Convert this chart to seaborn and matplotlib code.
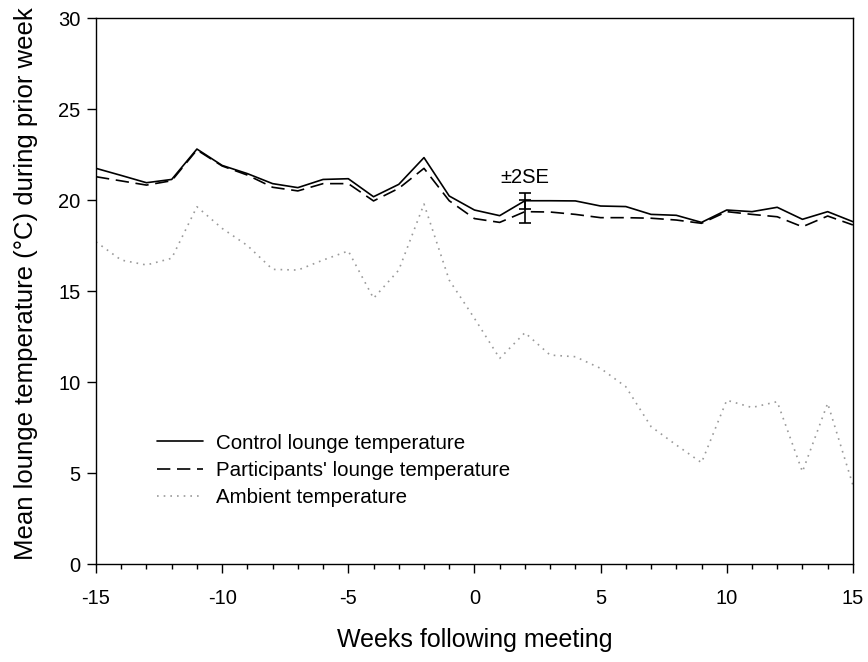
import numpy as np
import pandas as pd
import matplotlib
matplotlib.use("Agg")
import matplotlib.pyplot as plt
import seaborn as sns
from matplotlib.ticker import MultipleLocator

weeks = list(range(-15, 16))
control = [21.74, 21.35, 20.95, 21.13, 22.80, 21.90, 21.45, 20.90, 20.68, 21.13,
           21.17, 20.18, 20.86, 22.33, 20.22, 19.45, 19.14, 19.96, 19.96, 19.95,
           19.67, 19.64, 19.21, 19.16, 18.77, 19.45, 19.36, 19.60, 18.94, 19.36, 18.81]
participants = [21.28, 21.05, 20.82, 21.06, 22.75, 21.87, 21.37, 20.70, 20.50, 20.90,
                20.90, 19.95, 20.64, 21.74, 19.96, 18.98, 18.77, 19.36, 19.34, 19.21,
                19.03, 19.03, 19.00, 18.90, 18.72, 19.36, 19.21, 19.08, 18.53, 19.12, 18.63]
ambient = [17.70, 16.70, 16.43, 16.80, 19.63, 18.44, 17.50, 16.19, 16.15, 16.70,
           17.20, 14.60, 16.15, 19.78, 15.60, 13.50, 11.30, 12.71, 11.48, 11.39,
           10.75, 9.74, 7.55, 6.54, 5.57, 9.00, 8.60, 8.92, 5.07, 8.83, 4.34]

labels = ["Control lounge temperature", "Participants' lounge temperature", "Ambient temperature"]

# ±2SE bars at week 2
se_week = 2
se_control = 0.45
se_participants = 0.65

sns.set_style("white")
plt.rcParams["font.family"] = ["Liberation Sans", "DejaVu Sans"]
plt.rcParams["axes.unicode_minus"] = False
plt.rcParams["text.color"] = "black"
plt.rcParams["axes.labelcolor"] = "black"
plt.rcParams["xtick.color"] = "black"
plt.rcParams["ytick.color"] = "black"

fig = plt.figure(figsize=(8.68, 6.62), dpi=100)
ax = fig.add_axes([0.1106, 0.148, 0.872, 0.8248])

df = pd.DataFrame({"week": weeks, "control": control,
                   "participants": participants, "ambient": ambient})

sns.lineplot(data=df, x="week", y="control", ax=ax, color="black", lw=1.2,
             label=labels[0])
sns.lineplot(data=df, x="week", y="participants", ax=ax, color="black", lw=1.2,
             dashes=(8, 4), label=labels[1])
sns.lineplot(data=df, x="week", y="ambient", ax=ax, color="#9a9a9a", lw=1.2,
             linestyle=(0, (1, 3)), label=labels[2])

ci = df.set_index("week")
ax.errorbar([se_week], [ci.loc[se_week, "control"]], yerr=[se_control],
            fmt="none", ecolor="black", elinewidth=1.2, capsize=4.2, capthick=1.2)
ax.errorbar([se_week], [ci.loc[se_week, "participants"]], yerr=[se_participants],
            fmt="none", ecolor="black", elinewidth=1.2, capsize=4.2, capthick=1.2)
ax.text(se_week, 21.25, "±2SE", ha="center", va="center", fontsize=14.5)

ax.set_xlim(-15, 15)
ax.set_ylim(0, 30)
ax.xaxis.set_major_locator(MultipleLocator(5))
ax.xaxis.set_minor_locator(MultipleLocator(1))
ax.yaxis.set_major_locator(MultipleLocator(5))
ax.tick_params(axis="both", which="major", direction="out", length=6.3, width=1,
               labelsize=14.5, bottom=True, left=True)
ax.tick_params(axis="x", which="major", pad=12)
ax.tick_params(axis="y", which="major", pad=5)
ax.tick_params(axis="x", which="minor", direction="out", length=3.5, width=1,
               bottom=True)
for s in ax.spines.values():
    s.set_color("black")
    s.set_linewidth(1.0)

ax.set_xlabel("Weeks following meeting", fontsize=18, labelpad=14)
ax.set_ylabel("Mean lounge temperature (°C) during prior week", fontsize=18.5,
              labelpad=14)
ax.yaxis.label.set_y(0.513)

leg = ax.legend(loc="upper left", bbox_to_anchor=(0.070, 0.254), frameon=False,
                fontsize=14.8, handlelength=2.25, handletextpad=0.62,
                labelspacing=0.4, borderaxespad=0)

fig.savefig("out.png", dpi=100)
